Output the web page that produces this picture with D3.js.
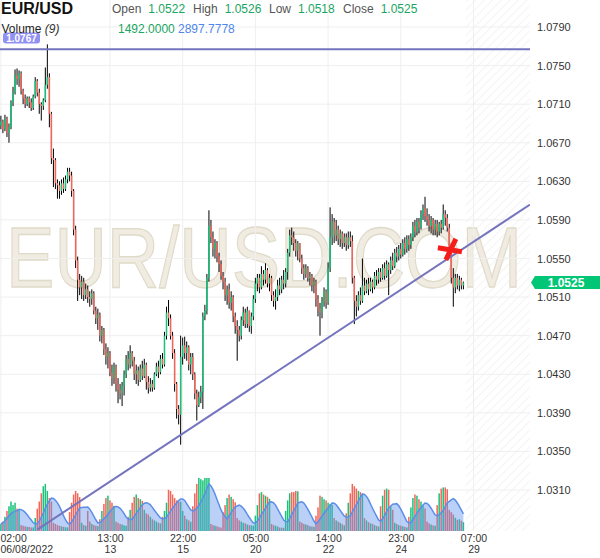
<!DOCTYPE html>
<html><head><meta charset="utf-8">
<script src="https://cdn.jsdelivr.net/npm/d3@7"></script>
<style>body{margin:0;background:#fff}svg{display:block}text{font-family:"Liberation Sans",Arial,sans-serif}</style>
</head><body><svg id="c" width="600" height="558"></svg>
<script>
// ---------------- data ----------------
const symbol = "EUR/USD";
const watermark = "EUR/USD.COM";
// prices stored in pips above 1.0000  (price = 1 + pips / 10000)
const firstOpenPips = 688;
const closePips = [692,684,695,680,686,712,722,740,736,742,
724,716,710,716,712,706,718,734,722,710,
708,714,730,738,700,654,652,628,626,620,
628,622,632,640,636,620,580,548,528,520,
526,512,518,510,508,514,496,488,492,470,
476,456,448,452,432,426,438,420,414,410,
418,430,446,440,452,444,430,434,424,436,
428,440,422,416,420,416,430,438,432,446,
440,470,494,488,470,452,420,394,388,448,
460,452,458,440,448,430,410,398,406,412,
490,496,530,584,572,560,566,552,544,532,
526,512,518,504,510,490,480,476,470,486,
494,482,496,480,490,508,524,530,520,534,
528,538,524,530,512,506,510,522,518,528,
524,536,556,574,572,566,558,566,550,540,
534,540,530,532,522,526,508,498,494,506,
516,504,540,572,588,574,580,570,576,566,
572,564,572,568,530,506,500,512,506,522,
516,524,518,526,520,532,528,536,530,540,
532,544,538,548,542,556,552,560,554,566,
560,570,564,572,584,578,588,582,596,602,
594,590,584,590,580,586,578,586,582,596,
592,582,562,530,520,530,522,528,522,525];
const highPips = [698,694,699,697,690,714,728,746,747,745,
744,726,720,718,718,716,720,738,736,726,
712,716,748,772,742,702,664,654,632,630,
632,634,636,644,644,640,622,584,552,534,
532,530,524,522,516,518,516,500,498,494,
480,478,462,458,454,440,442,440,426,420,
422,434,450,454,460,454,448,440,438,440,
444,446,442,428,426,424,432,442,444,450,
452,474,500,507,492,474,456,422,398,470,
468,469,464,460,452,452,432,414,412,418,
494,502,534,600,590,578,570,568,556,548,
536,530,522,524,516,512,494,486,480,490,
500,498,500,496,494,512,530,534,534,542,
538,545,540,534,532,516,518,528,530,532,
538,540,560,580,582,578,570,568,566,554,
544,544,542,536,534,530,528,512,504,510,
520,518,546,603,596,592,590,584,580,578,
576,576,578,578,574,532,512,516,520,550,
530,528,530,530,528,536,538,540,540,544,
546,548,546,552,556,560,562,564,566,570,
572,574,574,576,588,590,592,592,600,606,
614,602,596,594,592,590,590,588,590,606,
600,596,586,566,540,534,534,532,530,526];
const lowPips = [684,680,682,676,670,684,708,720,730,728,
720,710,706,708,706,703,704,716,718,700,
693,704,712,726,686,648,624,622,612,612,
616,618,620,628,630,614,574,540,506,512,
508,506,508,504,500,502,492,482,476,464,
462,450,440,436,428,418,420,412,400,404,
397,408,426,434,436,438,424,420,418,422,
424,426,414,410,412,412,414,428,426,430,
436,438,466,480,466,446,412,384,378,357,
440,446,444,434,430,424,404,382,396,400,
394,486,492,526,566,552,550,546,536,528,
518,506,502,498,496,484,472,444,464,466,
480,478,478,474,472,486,504,516,514,518,
522,524,520,516,506,500,497,506,512,514,
518,520,528,552,564,558,552,548,546,534,
528,530,526,522,516,514,500,490,470,488,
500,498,502,536,564,566,568,564,562,560,
562,558,560,562,524,482,490,496,502,504,
512,514,512,516,514,518,522,524,526,528,
528,530,512,534,538,540,546,548,550,552,
554,556,558,560,568,572,574,576,580,590,
588,584,578,576,574,574,572,574,576,580,
584,578,556,524,500,514,518,516,518,518];
const volumes = [1200,1600,2400,3400,4200,5000,4400,4800,3800,3600,
1000,900,800,700,700,600,600,
2200,3800,5000,6400,7600,8000,6800,5600,5000,
1400,1200,1000,900,800,700,640,600,
3200,4800,6200,6800,6400,5760,
1400,1000,900,3400,
1600,1200,1000,900,840,
2000,3400,4600,5600,6000,5200,4800,4280,
1600,1400,1200,1100,960,880,
2400,3600,4800,5800,6200,5600,5400,5100,
3600,3000,2800,2400,2000,1800,1600,1400,1290,
2400,3400,4800,7000,6800,6200,5600,5200,5000,4960,
3400,2600,2000,1800,1570,
4200,6400,8000,9000,8800,8600,9000,9000,9000,
1200,1000,900,800,660,570,
3200,4400,5600,6200,5800,5400,4890,
2200,1800,1600,1400,1300,1100,1000,940,900,
2600,4400,6400,6600,6200,6000,5800,5470,
1200,1000,900,760,600,560,540,
3400,5200,6400,6600,6600,6800,6740,
1600,1400,1200,1100,1000,800,760,700,
2600,4000,6000,5800,5400,5200,4800,4600,4440,
2200,1800,1600,1400,1160,950,
3000,4800,6400,8000,7600,7200,6800,6600,6210,
2200,1800,1500,1300,1200,1000,850,770,
4200,6000,7000,7200,7000,4200,3600,
1400,1200,1000,900,800,700,600,
2400,4000,5600,6200,6000,5400,5000,4400,3840,
1600,1300,1100,960,880,
4400,6400,7200,7400,7400,7100,
3600,3200,2800,2240,1900,
2000,1748,1492];
const maPeriod = 9;
const priceTicks = [1.0310,1.0350,1.0390,1.0430,1.0470,1.0510,1.0550,1.0590,1.0630,1.0670,1.0710,1.0750,1.0790];
const timeTickIndex = [0,54,90,126,162,198,234];
const timeTickTime = ["02:00","13:00","22:00","05:00","14:00","23:00","07:00"];
const timeTickDate = ["06/08/2022","13","15","20","22","24","29"];
const hLineLevel = 1.0767;
const trendPoints = [{i:18, p:1.0269},{i:262, p:1.0606}];
const markerPoint = {i:222.3, p:1.0559};

// ---------------- chart ----------------
const W = 600, H = 558, plotR = 530, plotB = 531;
const svg = d3.select("#c");
const candles = closePips.map((c,i)=>({
  i, open: 1 + (i ? closePips[i-1] : firstOpenPips)/1e4, close: 1 + c/1e4,
  high: 1 + highPips[i]/1e4, low: 1 + lowPips[i]/1e4, vol: volumes[i],
  ma: d3.mean(volumes.slice(Math.max(0, i-maPeriod+1), i+1))
}));
const n = candles.length;
const x = d3.scaleLinear().domain([0,234]).range([0.9,473.5]);
const y = d3.scaleLinear().domain([1.0310,1.0790]).range([490,27]);
const vy = d3.scaleLinear().domain([0,9000]).range([plotB,478]);

const defs = svg.append("defs");
defs.append("clipPath").attr("id","plot").append("rect").attr("x",0).attr("y",0).attr("width",plotR).attr("height",plotB);
const pat = defs.append("pattern").attr("id","hatch").attr("patternUnits","userSpaceOnUse")
  .attr("width",6).attr("height",6).attr("patternTransform","rotate(45)");
pat.append("line").attr("x1",0).attr("y1",0).attr("x2",0).attr("y2",6).attr("stroke","#ececec").attr("stroke-width",1.2);

svg.append("rect").attr("width",W).attr("height",H).attr("fill","#fff");
const plot = svg.append("g").attr("clip-path","url(#plot)");

// future hatch area
plot.append("rect").attr("x",x(n)).attr("y",0).attr("width",plotR - x(n)).attr("height",plotB).attr("fill","url(#hatch)");

// watermark (scaled horizontally to span the plot)
const wm = plot.append("text").attr("x",0).attr("y",0).attr("font-size",86)
  .attr("fill","#f0ece2").attr("stroke","#e0dac9").attr("stroke-width",1.3)
  .text(watermark);
const wmLen = wm.node().getComputedTextLength();
wm.attr("transform",`translate(6,287) scale(${516/wmLen},1)`);

// grid
plot.append("g").selectAll("line").data(priceTicks).join("line")
  .attr("x1",0).attr("x2",plotR).attr("y1",d=>y(d)).attr("y2",d=>y(d))
  .attr("stroke","#efefef").attr("stroke-width",1);
plot.append("g").selectAll("line").data(timeTickIndex).join("line")
  .attr("x1",d=>x(d)).attr("x2",d=>x(d)).attr("y1",0).attr("y2",plotB)
  .attr("stroke","#efefef").attr("stroke-width",1);

const up = "#18c27a", dn = "#f2665a";
// volume bars
plot.append("g").selectAll("rect").data(candles).join("rect")
  .attr("x",d=>x(d.i)-0.75).attr("width",1.5)
  .attr("y",d=>vy(d.vol)).attr("height",d=>vy(0)-vy(d.vol))
  .attr("fill",d=>d.close>=d.open?up:dn);
// volume MA
plot.append("path").datum(candles)
  .attr("d",d3.area().x(d=>x(d.i)).y0(vy(0)).y1(d=>vy(d.ma)))
  .attr("fill","rgba(105,150,235,0.45)");
plot.append("path").datum(candles)
  .attr("d",d3.line().x(d=>x(d.i)).y(d=>vy(d.ma)))
  .attr("fill","none").attr("stroke","#5b8ee9").attr("stroke-width",1.5);

// candles
const cg = plot.append("g");
cg.selectAll("line").data(candles).join("line")
  .attr("x1",d=>x(d.i)).attr("x2",d=>x(d.i)).attr("y1",d=>y(d.high)).attr("y2",d=>y(d.low))
  .attr("stroke","#000").attr("stroke-width",1);
cg.selectAll("rect").data(candles).join("rect")
  .attr("x",d=>x(d.i)-0.75).attr("width",1.5)
  .attr("y",d=>y(Math.max(d.open,d.close)))
  .attr("height",d=>Math.max(1,Math.abs(y(d.open)-y(d.close))))
  .attr("fill",d=>d.close>=d.open?up:dn);

// horizontal level + trend line
const lineCol = "#7474bf";
plot.append("line").attr("x1",0).attr("x2",plotR).attr("y1",y(hLineLevel)).attr("y2",y(hLineLevel))
  .attr("stroke",lineCol).attr("stroke-width",2);
plot.append("path").datum(trendPoints)
  .attr("d",d3.line().x(d=>x(d.i)).y(d=>y(d.p)))
  .attr("stroke",lineCol).attr("stroke-width",2).attr("fill","none");

// red cross marker
const mk = plot.append("g").attr("transform",`translate(${x(markerPoint.i)},${y(markerPoint.p)})`)
  .attr("stroke","#f51c1c").attr("stroke-width",5).attr("fill","none");
mk.append("line").attr("x1",-12).attr("y1",-2).attr("x2",12).attr("y2",2);
mk.append("line").attr("x1",-4).attr("y1",10).attr("x2",6).attr("y2",-11);

// right axis
const ra = svg.append("g").attr("transform",`translate(${plotR},0)`)
  .call(d3.axisRight(y).tickValues(priceTicks).tickSize(0).tickPadding(7).tickFormat(d3.format(".4f")));
ra.select(".domain").remove();
ra.selectAll("text").attr("font-size",11).attr("fill","#333").attr("font-family","Liberation Sans, Arial, sans-serif");

// bottom axis (two-line labels)
const ba = svg.append("g").attr("transform",`translate(0,${plotB})`)
  .call(d3.axisBottom(x).tickValues(timeTickIndex).tickSize(0).tickFormat(""));
ba.select(".domain").remove();
ba.selectAll(".tick").each(function(d,k){
  const g = d3.select(this);
  g.select("text").remove();
  const ox = k===0 ? -x(d) : 0;
  const anchor = k===0 ? "start" : "middle";
  [[timeTickTime[k],10.6],[timeTickDate[k],22.3]].forEach(([s,yy])=>{
    g.append("text").attr("x",ox).attr("y",yy).attr("text-anchor",anchor)
      .attr("font-size",10.5).attr("fill","#333").attr("font-family","Liberation Sans, Arial, sans-serif").text(s);
  });
});

// last price label
const last = candles[n-1];
const ly = y(last.close);
svg.append("path")
  .attr("d",`M${plotR+1},${ly} L${plotR+5},${ly-6.5} L${W},${ly-6.5} L${W},${ly+6.5} L${plotR+5},${ly+6.5} Z`)
  .attr("fill","#00c676");
svg.append("text").attr("x",566).attr("y",ly+4.3).attr("text-anchor","middle")
  .attr("font-size",12).attr("font-weight","bold").attr("fill","#fff").text(last.close.toFixed(4));

// header
svg.append("rect").attr("x",3).attr("y",32.5).attr("width",37).attr("height",11).attr("rx",3).attr("fill","#9191f4");
svg.append("text").attr("x",21.5).attr("y",42).attr("text-anchor","middle").attr("font-size",10)
  .attr("font-weight","bold").attr("fill","#fff").text(hLineLevel.toFixed(4));
svg.append("text").attr("x",1).attr("y",13.5).attr("font-size",16).attr("font-weight","bold").attr("fill","#111").text(symbol);
const hdr = [["Open",112,last.open],["High",193,last.high],["Low",269,last.low],["Close",343,last.close]];
hdr.forEach(([lab,px,val])=>{
  const t = svg.append("text").attr("x",px).attr("y",13).attr("font-size",12);
  t.append("tspan").attr("fill","#555").text(lab);
  t.append("tspan").attr("dx",7).attr("fill","#1aa563").text(val.toFixed(4));
});
const vt = svg.append("text").attr("x",1.5).attr("y",32.5).attr("font-size",12).attr("fill","#222");
vt.append("tspan").text("Volume ");
vt.append("tspan").attr("font-style","italic").attr("fill","#333").text(`(${maPeriod})`);
svg.append("text").attr("x",118).attr("y",32.5).attr("font-size",12).attr("fill","#1aa563").text(last.vol.toFixed(4));
svg.append("text").attr("x",178).attr("y",32.5).attr("font-size",12).attr("fill","#4f86ec").text(last.ma.toFixed(4));
</script></body></html>
